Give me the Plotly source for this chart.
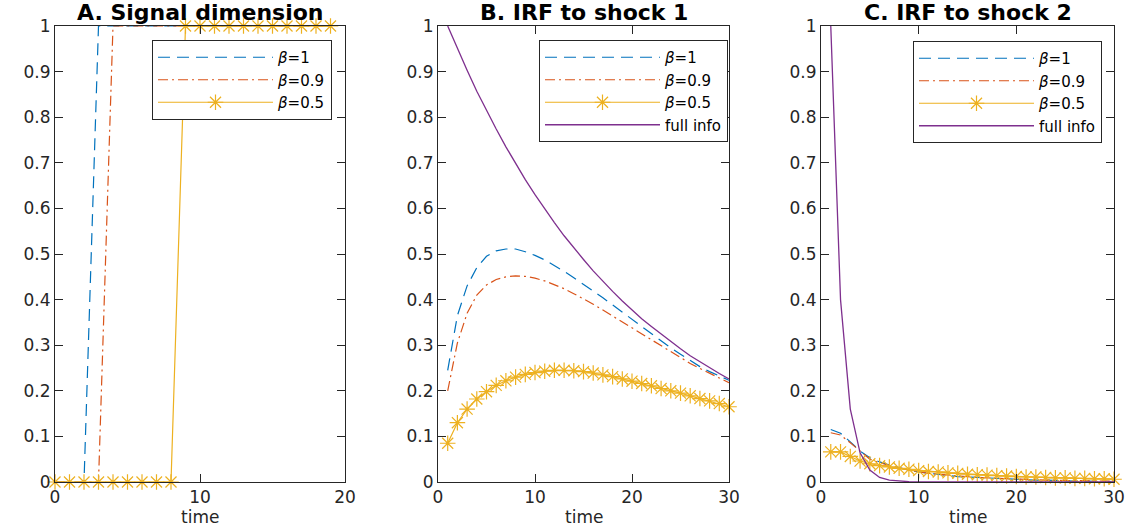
import plotly.graph_objects as go

W, H = 1133, 527

# ---------------- data ----------------
t_signal = list(range(0, 20))
sig_beta1 = [0, 0, 0, 1, 1, 1, 1, 1, 1, 1, 1, 1, 1, 1, 1, 1, 1, 1, 1, 1]
sig_beta09 = [0, 0, 0, 0, 1, 1, 1, 1, 1, 1, 1, 1, 1, 1, 1, 1, 1, 1, 1, 1]
sig_beta05 = [0, 0, 0, 0, 0, 0, 0, 0, 0, 1, 1, 1, 1, 1, 1, 1, 1, 1, 1, 1]

t_irf = list(range(1, 31))
irf1_beta1 = [0.245, 0.365, 0.430, 0.470, 0.495, 0.507, 0.511, 0.511, 0.505, 0.497,
              0.487, 0.475, 0.462, 0.448, 0.434, 0.419, 0.404, 0.388, 0.372, 0.356,
              0.340, 0.324, 0.309, 0.294, 0.280, 0.266, 0.253, 0.242, 0.232, 0.223]
irf1_beta09 = [0.200, 0.305, 0.370, 0.410, 0.432, 0.444, 0.450, 0.452, 0.451, 0.447,
               0.441, 0.433, 0.424, 0.413, 0.402, 0.390, 0.377, 0.364, 0.351, 0.338,
               0.324, 0.311, 0.298, 0.285, 0.272, 0.260, 0.249, 0.238, 0.228, 0.218]
irf1_beta05 = [0.085, 0.130, 0.160, 0.182, 0.198, 0.212, 0.222, 0.230, 0.236, 0.240,
               0.243, 0.245, 0.245, 0.244, 0.242, 0.239, 0.235, 0.231, 0.226, 0.221,
               0.216, 0.211, 0.205, 0.200, 0.195, 0.189, 0.183, 0.178, 0.172, 0.165]
irf1_full = [1.000, 0.950, 0.903, 0.857, 0.815, 0.774, 0.735, 0.698, 0.663, 0.630,
             0.599, 0.569, 0.540, 0.513, 0.488, 0.463, 0.440, 0.418, 0.397, 0.377,
             0.358, 0.341, 0.324, 0.307, 0.292, 0.277, 0.264, 0.250, 0.238, 0.226]

irf2_beta1 = [0.115, 0.107, 0.088, 0.068, 0.053, 0.044, 0.037, 0.031, 0.026, 0.022,
              0.019, 0.016, 0.014, 0.012, 0.011, 0.009, 0.008, 0.007, 0.006, 0.005,
              0.005, 0.004, 0.004, 0.003, 0.003, 0.002, 0.002, 0.002, 0.002, 0.001]
irf2_beta09 = [0.108, 0.103, 0.086, 0.067, 0.050, 0.042, 0.036, 0.031, 0.026, 0.022,
               0.019, 0.017, 0.015, 0.013, 0.011, 0.010, 0.009, 0.008, 0.007, 0.006,
               0.005, 0.005, 0.004, 0.004, 0.003, 0.003, 0.003, 0.002, 0.002, 0.002]
irf2_beta05 = [0.066, 0.066, 0.056, 0.046, 0.040, 0.036, 0.033, 0.030, 0.028, 0.025,
               0.023, 0.022, 0.020, 0.019, 0.017, 0.016, 0.015, 0.014, 0.013, 0.012,
               0.011, 0.011, 0.010, 0.009, 0.009, 0.008, 0.008, 0.007, 0.007, 0.006]
irf2_full = [1.000, 0.400, 0.160, 0.064, 0.026, 0.010, 0.004, 0.0016, 0.0007, 0.0003,
             0.0001, 0, 0, 0, 0, 0, 0, 0, 0, 0,
             0, 0, 0, 0, 0, 0, 0, 0, 0, 0]

titles = ["A. Signal dimension", "B. IRF to shock 1", "C. IRF to shock 2"]
names = ["<i>β</i>=1", "<i>β</i>=0.9", "<i>β</i>=0.5", "full info"]

# ---------------- style ----------------
BLUE = "#0072BD"
RED = "#D95319"
YEL = "#EDB120"
PUR = "#7E2F8E"
AX = "#262626"
FONT = "DejaVu Sans"

# plot areas in pixels (left, right)
px_x = [(55, 345), (438, 729), (821, 1114)]
top_px, bot_px = 26, 482
ydom = [1 - bot_px / H, 1 - top_px / H]

fig = go.Figure()

def add_series(panel, x, y, kind, legend, clip=True):
    ax = "" if panel == 1 else str(panel)
    common = dict(x=x, y=y, xaxis="x" + ax, yaxis="y" + ax,
                  legend=legend, cliponaxis=clip)
    if kind == 0:
        fig.add_trace(go.Scatter(mode="lines", name=names[0],
                                 line=dict(color=BLUE, width=1.2, dash="12px,7px"), **common))
    elif kind == 1:
        fig.add_trace(go.Scatter(mode="lines", name=names[1],
                                 line=dict(color=RED, width=1.2, dash="10px,4px,2px,4px"), **common))
    elif kind == 2:
        fig.add_trace(go.Scatter(mode="lines+markers", name=names[2],
                                 line=dict(color=YEL, width=1.2),
                                 marker=dict(symbol="asterisk-open", size=13, color=YEL,
                                             line=dict(color=YEL, width=1.2)), **common))
    else:
        fig.add_trace(go.Scatter(mode="lines", name=names[3],
                                 line=dict(color=PUR, width=1.3), **common))

# Panel A
add_series(1, t_signal, sig_beta1, 0, "legend", clip=False)
add_series(1, t_signal, sig_beta09, 1, "legend", clip=False)
add_series(1, t_signal, sig_beta05, 2, "legend", clip=False)
# Panel B
add_series(2, t_irf, irf1_beta1, 0, "legend2")
add_series(2, t_irf, irf1_beta09, 1, "legend2")
add_series(2, t_irf, irf1_beta05, 2, "legend2", clip=False)
add_series(2, t_irf, irf1_full, 3, "legend2")
# Panel C
add_series(3, t_irf, irf2_beta1, 0, "legend3")
add_series(3, t_irf, irf2_beta09, 1, "legend3")
add_series(3, t_irf, irf2_beta05, 2, "legend3", clip=False)
add_series(3, t_irf, irf2_full, 3, "legend3")

tickfont = dict(family=FONT, size=17, color=AX)
axis_common = dict(showline=True, linecolor=AX, linewidth=1, mirror="ticks",
                   ticks="inside", ticklen=8, tickcolor=AX, tickwidth=1,
                   showgrid=False, zeroline=False, tickfont=tickfont, fixedrange=True,
                   automargin=False)

layout = dict(width=W, height=H, margin=dict(l=0, r=0, t=0, b=0, autoexpand=False),
              paper_bgcolor="white", plot_bgcolor="white", showlegend=True)

xranges = [[0, 20], [0, 30], [0, 30]]
xticks = [[0, 10, 20], [0, 10, 20, 30], [0, 10, 20, 30]]
for i in range(3):
    suf = "" if i == 0 else str(i + 1)
    l, r = px_x[i]
    layout["xaxis" + suf] = dict(domain=[l / W, r / W], range=xranges[i],
                                 tickvals=xticks[i], anchor="y" + suf, **axis_common)
    layout["yaxis" + suf] = dict(domain=ydom, range=[0, 1], dtick=0.1, tick0=0,
                                 anchor="x" + suf, **axis_common)

legend_boxes = [(332, 40), (728, 40), (1102, 41)]
legend_keys = ["legend", "legend2", "legend3"]
for key, (xr, yt) in zip(legend_keys, legend_boxes):
    layout[key] = dict(x=xr / W, xanchor="right", y=1 - yt / H, yanchor="top",
                       bordercolor=AX, borderwidth=1, bgcolor="white",
                       font=dict(family=FONT, size=15, color="black"),
                       itemwidth=115, tracegroupgap=0, traceorder="normal")

annotations = []
for i in range(3):
    l, r = px_x[i]
    annotations.append(dict(text="<b>" + titles[i] + "</b>", xref="paper", yref="paper",
                            x=(l + r) / 2 / W, y=1 - 13 / H, xanchor="center", yanchor="middle",
                            showarrow=False, font=dict(family=FONT, size=22, color="black")))
    annotations.append(dict(text="time", xref="paper", yref="paper",
                            x=(l + r) / 2 / W, y=1 - 516.5 / H, xanchor="center", yanchor="middle",
                            showarrow=False, borderpad=0,
                            font=dict(family=FONT, size=17, color=AX)))
layout["annotations"] = annotations

fig.update_layout(**layout)
fig.write_html("out.html", config={"displayModeBar": False},
               post_script="document.body.style.margin='0px';document.body.style.overflow='hidden';")
